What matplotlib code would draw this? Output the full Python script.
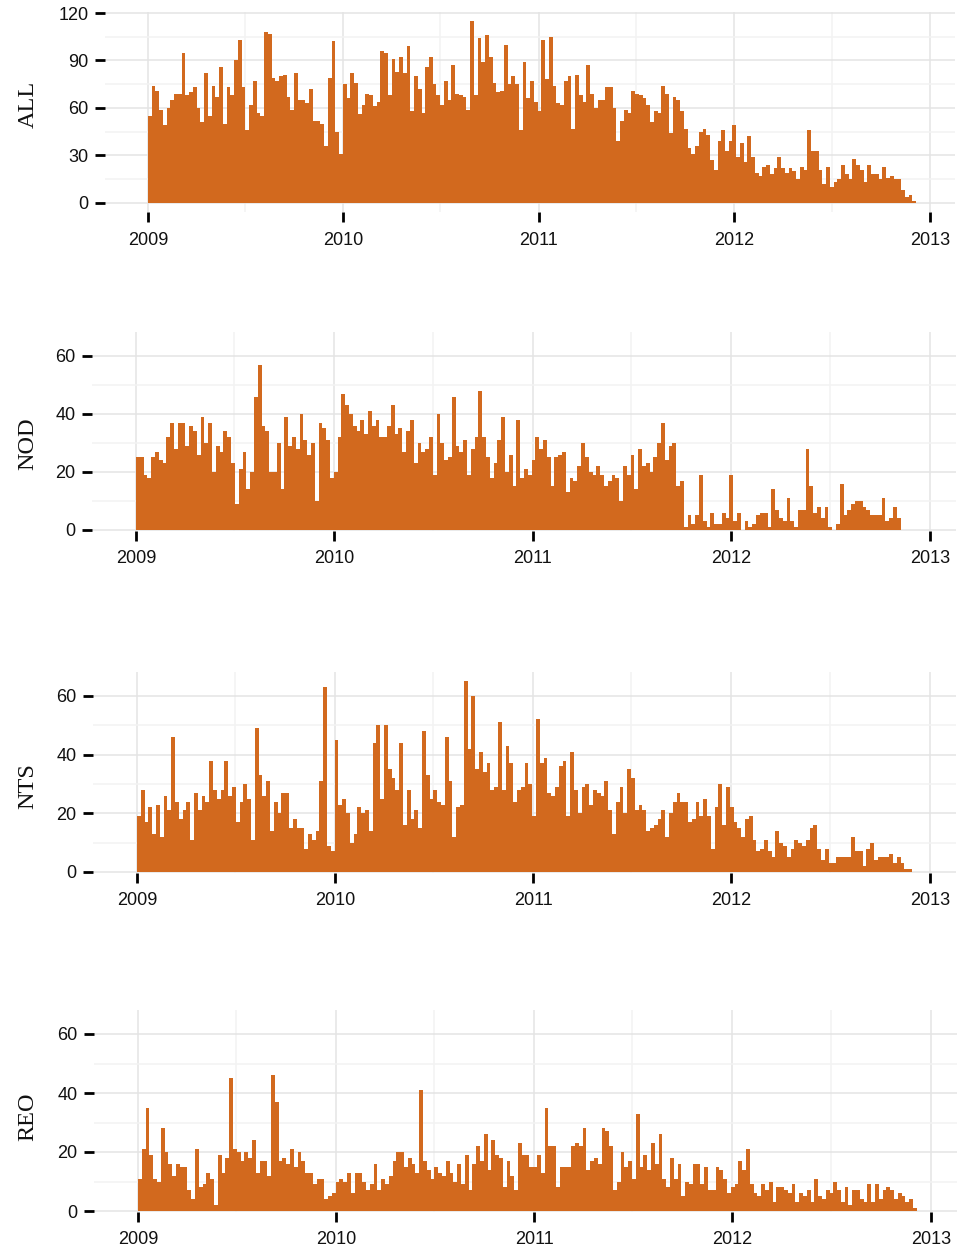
import matplotlib
matplotlib.use("Agg")
import matplotlib.pyplot as plt
import matplotlib.dates as mdates
import numpy as np
import pandas as pd

# ---------------- data (weekly counts, 205 weeks starting 2009-01-01) ----------------
week_start = pd.date_range("2009-01-01", periods=205, freq="7D")

all_counts = [
    55, 74, 71, 59, 49, 60, 65, 69, 69, 95, 68, 70, 73, 60, 51, 82, 55, 74, 67, 86,
    50, 73, 68, 90, 103, 73, 46, 62, 77, 57, 55, 108, 107, 79, 77, 80, 81, 67, 59, 82,
    65, 65, 63, 72, 52, 52, 50, 36, 79, 102, 45, 31,
    75, 66, 82, 76, 56, 62, 69, 68, 61, 64, 96, 95, 68, 91, 83, 92, 82, 99, 58, 80,
    72, 57, 86, 92, 75, 68, 62, 77, 65, 87, 69, 68, 67, 59, 115, 68, 104, 89, 106, 92,
    76, 70, 71, 100, 75, 80, 75, 46, 89, 66, 77, 64,
    58, 103, 78, 105, 74, 63, 62, 77, 80, 47, 81, 68, 64, 87, 69, 60, 65, 65, 73, 73,
    60, 39, 52, 59, 57, 71, 69, 68, 66, 62, 51, 58, 57, 74, 69, 44, 67, 65, 58, 47,
    35, 31, 36, 45, 47, 43, 27, 21, 39, 46, 33, 39,
    49, 29, 38, 26, 42, 29, 19, 17, 23, 24, 18, 22, 29, 22, 19, 22, 20, 15, 23, 21,
    46, 33, 33, 21, 12, 23, 10, 13, 15, 24, 18, 15, 28, 24, 21, 13, 24, 18, 18, 15,
    23, 16, 17, 15, 15, 8, 4, 5, 1,
]

nod_counts = [
    25, 25, 19, 18, 25, 27, 24, 23, 32, 37, 28, 37, 37, 29, 36, 34, 26, 39, 30, 37,
    20, 29, 27, 34, 32, 23, 9, 21, 27, 14, 20, 46, 57, 36, 34, 20, 20, 30, 14, 39,
    29, 32, 28, 40, 31, 26, 30, 10, 37, 35, 31, 18,
    20, 32, 47, 43, 40, 36, 34, 38, 33, 41, 36, 38, 32, 32, 36, 43,
    33, 35, 27, 34, 38, 23, 30, 27, 28, 32, 19, 40, 30, 24, 25, 46, 29, 27, 31, 19,
    28, 32, 48, 32, 25, 18, 23, 31, 39, 20, 26, 15, 38, 18, 21, 19,
    24, 32, 28, 31, 25, 15, 25, 26, 27, 13, 18, 17, 22, 30, 25, 20, 19, 22, 19, 15,
    17, 19, 18, 10, 22, 19, 26, 14, 28, 22, 23, 20, 25, 30, 37,
    24, 29, 30, 15, 17, 1, 5, 2, 5, 19, 3, 1, 6, 2, 2, 6, 4, 19, 3, 6,
    0, 3, 1, 2, 5, 6, 6, 1, 14, 7, 4, 3, 11, 3, 1, 7, 7, 28, 15, 6,
    8, 4, 8, 1, 0, 2, 16, 5, 7, 9, 10, 10, 8, 7, 5, 5, 5, 11, 3, 4,
    8, 4, 0, 0, 0, 0,
]

nts_counts = [
    19, 28, 17, 22, 13, 23, 12, 26, 21, 46, 24, 18, 21, 24, 11, 27, 21, 26, 24, 38,
    28, 25, 28, 38, 26, 29, 17, 24, 30, 25, 11, 49, 33, 26, 31, 14, 24, 20, 27, 27,
    15, 18, 15, 15, 8, 13, 11, 14, 31, 63, 9, 7,
    45, 23, 25, 20, 10, 13, 22, 20, 21, 14, 44, 50, 25, 50, 35, 32, 28,
    44, 16, 28, 18, 21, 15, 48, 33, 25, 28, 24, 23, 46, 31, 12, 22, 23, 65, 42, 60,
    35, 41, 34, 37, 28, 29, 51, 28, 43, 37, 24, 28, 29, 37, 30,
    19, 52, 37, 39, 27, 26, 29, 36, 38, 19, 41, 28, 20, 29, 30, 23, 28, 27, 26, 31,
    21, 13, 24, 29, 20, 35, 32, 21, 23, 21, 14, 15, 16, 18, 21,
    12, 20, 24, 27, 24, 24, 17, 18, 24, 19, 25, 19, 8, 22, 30, 16, 29, 22, 17, 15,
    12, 18, 19, 11, 7, 8, 11, 7, 5, 14, 10, 9, 5, 8, 11, 10, 9, 11, 15, 16,
    8, 4, 8, 3, 3, 5, 5, 5, 5, 12, 7, 7, 2, 8, 10, 4, 5, 5, 5, 6,
    3, 5, 3, 1, 1, 0,
]

reo_counts = [
    11, 21, 35, 19, 11, 10, 28, 20, 16, 12, 16, 15, 15, 7, 4, 21, 8, 9, 13, 11,
    2, 19, 13, 18, 45, 21, 20, 17, 20, 18, 24, 13, 17, 17, 12, 46, 37, 17, 18, 16,
    21, 15, 20, 17, 13, 13, 9, 11, 11, 4, 5, 6,
    10, 11, 10, 13, 6, 13, 13, 10, 7, 9, 16, 7, 11, 9, 12, 17, 20,
    20, 15, 18, 16, 13, 41, 17, 14, 11, 15, 13, 12, 17, 13, 10, 16, 9, 19, 7, 16,
    22, 17, 26, 14, 24, 19, 18, 8, 17, 12, 7, 23, 19, 19, 15,
    15, 19, 13, 35, 22, 22, 8, 15, 15, 15, 22, 23, 22, 28, 14, 17, 18, 16, 28, 27,
    22, 7, 10, 20, 15, 17, 11, 33, 15, 19, 14, 23, 16, 26,
    11, 8, 18, 11, 16, 5, 10, 9, 16, 16, 9, 15, 7, 7, 15, 14, 11, 6, 8, 9,
    17, 14, 21, 9, 6, 5, 9, 7, 10, 3, 8, 8, 7, 6, 9, 3, 6, 5, 7, 3,
    11, 5, 4, 7, 6, 10, 7, 3, 8, 2, 7, 7, 4, 3, 9, 3, 9, 4, 7, 8,
    7, 4, 6, 5, 3, 4, 1,
]

panel_names = ["ALL", "NOD", "NTS", "REO"]
year_ticks = ["2009", "2010", "2011", "2012", "2013"]
all_yticks = [0, 30, 60, 90, 120]
sub_yticks = [0, 20, 40, 60]

# ---------------- styling / layout ----------------
W, H = 975, 1250
BAR = "#D2691E"
fig = plt.figure(figsize=(W / 100, H / 100), dpi=100)

x0 = mdates.date2num(pd.Timestamp("2009-01-01"))
x1 = mdates.date2num(pd.Timestamp("2013-01-01"))
xlo = x0 - 80.3
xhi = x1 + 47.5

# (pixel x of 2009, pixel x of 2013, pixel y of 0, pixel y of ref value, ref value, ylim, label y)
layout = [
    (148, 930, 203, 13, 120, (-5.75, 120.75), 104),
    (136, 930, 530, 356, 60, (-0.25, 68.25), 444),
    (137, 930, 872, 696, 60, (-0.25, 68.25), 786),
    (138, 931, 1211, 1034, 60, (-0.25, 68.25), 1117),
]
series = [all_counts, nod_counts, nts_counts, reo_counts]

xmaj = [mdates.date2num(pd.Timestamp(f"{y}-01-01")) for y in year_ticks]
xmin = [mdates.date2num(pd.Timestamp(f"{y}-07-01")) for y in year_ticks[:-1]]

for i, (name, vals, lay) in enumerate(zip(panel_names, series, layout)):
    px09, px13, py0, pyr, rv, ylim, laby = lay
    sx = (px13 - px09) / (x1 - x0)
    sy = (py0 - pyr) / rv
    left = px09 - (x0 - xlo) * sx
    right = px13 + (xhi - x1) * sx
    top = py0 - ylim[1] * sy
    bottom = py0 - ylim[0] * sy
    ax = fig.add_axes([left / W, 1 - bottom / H, (right - left) / W, (bottom - top) / H])

    xs = mdates.date2num(week_start)
    ax.bar(xs, vals, width=7.0, align="edge", color=BAR, linewidth=0)

    ax.set_xlim(xlo, xhi)
    ax.set_ylim(*ylim)
    yt = all_yticks if i == 0 else sub_yticks
    ax.set_yticks(yt)
    ax.set_yticklabels([str(v) for v in yt])
    step = yt[1] - yt[0]
    ax.set_yticks([v + step / 2 for v in yt[:-1]], minor=True)
    ax.set_xticks(xmaj)
    ax.set_xticklabels(year_ticks)
    ax.set_xticks(xmin, minor=True)

    for s in ax.spines.values():
        s.set_visible(False)
    ax.set_axisbelow(True)
    ax.grid(which="major", color="#E4E4E4", linewidth=1.1)
    ax.grid(which="minor", color="#F3F3F3", linewidth=1.1)
    ax.tick_params(which="major", length=7.5, width=2.0, color="black",
                   direction="out", labelsize=13, labelcolor="#111111")
    ax.tick_params(axis="x", which="major", pad=6.5)
    ax.tick_params(axis="y", which="major", pad=4.5)
    ax.tick_params(which="minor", length=0)
    for lab in ax.get_xticklabels() + ax.get_yticklabels():
        lab.set_fontfamily("Liberation Sans")

    fig.text(28 / W, 1 - laby / H, name, rotation=90, ha="center", va="center",
             fontsize=17.5, family="Liberation Serif", color="#111111")

fig.savefig("out.png", dpi=100)
